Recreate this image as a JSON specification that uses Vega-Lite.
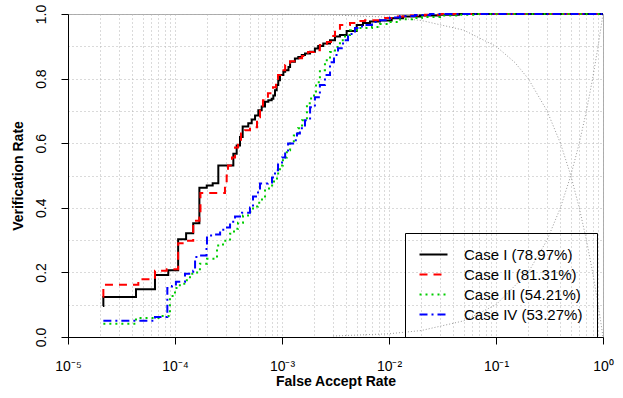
{
  "$schema": "https://vega.github.io/schema/vega-lite/v6.json",
  "width": 535,
  "height": 323,
  "autosize": "none",
  "padding": {"left": 68, "top": 14, "right": 20, "bottom": 61},
  "config": {
    "font": "Liberation Sans",
    "view": {"stroke": "#aaaaaa", "strokeWidth": 1},
    "legend": {
      "orient": "none", "legendX": 337, "legendY": 219,
      "strokeColor": "black", "padding": 14,
      "symbolType": "M-2.8,0H2.8", "symbolSize": 100, "symbolStrokeWidth": 2, "symbolOffset": 7,
      "labelFontSize": 15, "labelFont": "Liberation Sans", "labelColor": "black",
      "rowPadding": 4, "labelOffset": 23, "labelLimit": 300
    }
  },
  "datasets": {
    "ref": [
      {"curve": "a", "far": 0.001, "vr": 0.999}, {"curve": "a", "far": 0.003, "vr": 0.997},
      {"curve": "a", "far": 0.01, "vr": 0.99}, {"curve": "a", "far": 0.02, "vr": 0.98},
      {"curve": "a", "far": 0.05, "vr": 0.95}, {"curve": "a", "far": 0.1, "vr": 0.9},
      {"curve": "a", "far": 0.15, "vr": 0.85}, {"curve": "a", "far": 0.2, "vr": 0.8},
      {"curve": "a", "far": 0.3, "vr": 0.7}, {"curve": "a", "far": 0.4, "vr": 0.6},
      {"curve": "a", "far": 0.5, "vr": 0.5}, {"curve": "a", "far": 0.6, "vr": 0.4},
      {"curve": "a", "far": 0.7, "vr": 0.3}, {"curve": "a", "far": 0.8, "vr": 0.2},
      {"curve": "a", "far": 0.9, "vr": 0.1}, {"curve": "a", "far": 0.95, "vr": 0.05},
      {"curve": "a", "far": 0.99, "vr": 0.01}, {"curve": "a", "far": 1, "vr": 0},
      {"curve": "b", "far": 0.003, "vr": 0.003}, {"curve": "b", "far": 0.01, "vr": 0.01},
      {"curve": "b", "far": 0.02, "vr": 0.02}, {"curve": "b", "far": 0.05, "vr": 0.05},
      {"curve": "b", "far": 0.1, "vr": 0.1}, {"curve": "b", "far": 0.2, "vr": 0.2},
      {"curve": "b", "far": 0.3, "vr": 0.3}, {"curve": "b", "far": 0.4, "vr": 0.4},
      {"curve": "b", "far": 0.5, "vr": 0.5}, {"curve": "b", "far": 0.6, "vr": 0.6},
      {"curve": "b", "far": 0.7, "vr": 0.7}, {"curve": "b", "far": 0.8, "vr": 0.8},
      {"curve": "b", "far": 0.9, "vr": 0.9}, {"curve": "b", "far": 1, "vr": 1}
    ],
    "roc": [
      {"s": "Case I (78.97%)", "far": 2.12e-5, "vr": 0.096},
      {"s": "Case I (78.97%)", "far": 2.14e-5, "vr": 0.124},
      {"s": "Case I (78.97%)", "far": 4.32e-5, "vr": 0.148},
      {"s": "Case I (78.97%)", "far": 6.50e-5, "vr": 0.192},
      {"s": "Case I (78.97%)", "far": 8.65e-5, "vr": 0.207},
      {"s": "Case I (78.97%)", "far": 1.07e-4, "vr": 0.303},
      {"s": "Case I (78.97%)", "far": 1.27e-4, "vr": 0.321},
      {"s": "Case I (78.97%)", "far": 1.48e-4, "vr": 0.352},
      {"s": "Case I (78.97%)", "far": 1.69e-4, "vr": 0.462},
      {"s": "Case I (78.97%)", "far": 1.98e-4, "vr": 0.469},
      {"s": "Case I (78.97%)", "far": 2.25e-4, "vr": 0.476},
      {"s": "Case I (78.97%)", "far": 2.54e-4, "vr": 0.531},
      {"s": "Case I (78.97%)", "far": 3.51e-4, "vr": 0.567},
      {"s": "Case I (78.97%)", "far": 3.77e-4, "vr": 0.593},
      {"s": "Case I (78.97%)", "far": 4.05e-4, "vr": 0.619},
      {"s": "Case I (78.97%)", "far": 4.29e-4, "vr": 0.652},
      {"s": "Case I (78.97%)", "far": 4.84e-4, "vr": 0.662},
      {"s": "Case I (78.97%)", "far": 5.21e-4, "vr": 0.673},
      {"s": "Case I (78.97%)", "far": 5.60e-4, "vr": 0.686},
      {"s": "Case I (78.97%)", "far": 6.01e-4, "vr": 0.702},
      {"s": "Case I (78.97%)", "far": 6.46e-4, "vr": 0.714},
      {"s": "Case I (78.97%)", "far": 6.94e-4, "vr": 0.728},
      {"s": "Case I (78.97%)", "far": 7.45e-4, "vr": 0.733},
      {"s": "Case I (78.97%)", "far": 8.01e-4, "vr": 0.738},
      {"s": "Case I (78.97%)", "far": 8.30e-4, "vr": 0.748},
      {"s": "Case I (78.97%)", "far": 8.60e-4, "vr": 0.764},
      {"s": "Case I (78.97%)", "far": 8.92e-4, "vr": 0.780},
      {"s": "Case I (78.97%)", "far": 9.23e-4, "vr": 0.795},
      {"s": "Case I (78.97%)", "far": 9.57e-4, "vr": 0.811},
      {"s": "Case I (78.97%)", "far": 1.03e-3, "vr": 0.821},
      {"s": "Case I (78.97%)", "far": 1.07e-3, "vr": 0.826},
      {"s": "Case I (78.97%)", "far": 1.15e-3, "vr": 0.836},
      {"s": "Case I (78.97%)", "far": 1.19e-3, "vr": 0.852},
      {"s": "Case I (78.97%)", "far": 1.32e-3, "vr": 0.862},
      {"s": "Case I (78.97%)", "far": 1.42e-3, "vr": 0.867},
      {"s": "Case I (78.97%)", "far": 1.53e-3, "vr": 0.873},
      {"s": "Case I (78.97%)", "far": 1.64e-3, "vr": 0.878},
      {"s": "Case I (78.97%)", "far": 1.83e-3, "vr": 0.883},
      {"s": "Case I (78.97%)", "far": 2.03e-3, "vr": 0.893},
      {"s": "Case I (78.97%)", "far": 2.18e-3, "vr": 0.901},
      {"s": "Case I (78.97%)", "far": 2.43e-3, "vr": 0.909},
      {"s": "Case I (78.97%)", "far": 2.81e-3, "vr": 0.919},
      {"s": "Case I (78.97%)", "far": 3.13e-3, "vr": 0.930},
      {"s": "Case I (78.97%)", "far": 3.48e-3, "vr": 0.935},
      {"s": "Case I (78.97%)", "far": 4.02e-3, "vr": 0.947},
      {"s": "Case I (78.97%)", "far": 4.99e-3, "vr": 0.966},
      {"s": "Case I (78.97%)", "far": 5.71e-3, "vr": 0.972},
      {"s": "Case I (78.97%)", "far": 6.64e-3, "vr": 0.977},
      {"s": "Case I (78.97%)", "far": 8.24e-3, "vr": 0.980},
      {"s": "Case I (78.97%)", "far": 1.06e-2, "vr": 0.987},
      {"s": "Case I (78.97%)", "far": 1.35e-2, "vr": 0.992},
      {"s": "Case I (78.97%)", "far": 1.95e-2, "vr": 0.995},
      {"s": "Case I (78.97%)", "far": 3.00e-2, "vr": 0.998},
      {"s": "Case I (78.97%)", "far": 4.5e-2, "vr": 1.0},
      {"s": "Case I (78.97%)", "far": 1, "vr": 1.0},

      {"s": "Case II (81.31%)", "far": 2.12e-5, "vr": 0.125},
      {"s": "Case II (81.31%)", "far": 2.14e-5, "vr": 0.162},
      {"s": "Case II (81.31%)", "far": 4.54e-5, "vr": 0.179},
      {"s": "Case II (81.31%)", "far": 6.50e-5, "vr": 0.205},
      {"s": "Case II (81.31%)", "far": 8.36e-5, "vr": 0.210},
      {"s": "Case II (81.31%)", "far": 1.07e-4, "vr": 0.290},
      {"s": "Case II (81.31%)", "far": 1.29e-4, "vr": 0.298},
      {"s": "Case II (81.31%)", "far": 1.48e-4, "vr": 0.360},
      {"s": "Case II (81.31%)", "far": 1.69e-4, "vr": 0.370},
      {"s": "Case II (81.31%)", "far": 1.73e-4, "vr": 0.446},
      {"s": "Case II (81.31%)", "far": 2.93e-4, "vr": 0.466},
      {"s": "Case II (81.31%)", "far": 3.04e-4, "vr": 0.500},
      {"s": "Case II (81.31%)", "far": 3.13e-4, "vr": 0.531},
      {"s": "Case II (81.31%)", "far": 3.41e-4, "vr": 0.556},
      {"s": "Case II (81.31%)", "far": 3.64e-4, "vr": 0.587},
      {"s": "Case II (81.31%)", "far": 3.88e-4, "vr": 0.602},
      {"s": "Case II (81.31%)", "far": 4.14e-4, "vr": 0.630},
      {"s": "Case II (81.31%)", "far": 4.51e-4, "vr": 0.640},
      {"s": "Case II (81.31%)", "far": 5.02e-4, "vr": 0.649},
      {"s": "Case II (81.31%)", "far": 5.84e-4, "vr": 0.680},
      {"s": "Case II (81.31%)", "far": 6.23e-4, "vr": 0.711},
      {"s": "Case II (81.31%)", "far": 6.64e-4, "vr": 0.733},
      {"s": "Case II (81.31%)", "far": 7.39e-4, "vr": 0.755},
      {"s": "Case II (81.31%)", "far": 8.24e-4, "vr": 0.773},
      {"s": "Case II (81.31%)", "far": 8.79e-4, "vr": 0.795},
      {"s": "Case II (81.31%)", "far": 9.18e-4, "vr": 0.811},
      {"s": "Case II (81.31%)", "far": 9.79e-4, "vr": 0.826},
      {"s": "Case II (81.31%)", "far": 1.07e-3, "vr": 0.842},
      {"s": "Case II (81.31%)", "far": 1.19e-3, "vr": 0.854},
      {"s": "Case II (81.31%)", "far": 1.35e-3, "vr": 0.863},
      {"s": "Case II (81.31%)", "far": 1.54e-3, "vr": 0.870},
      {"s": "Case II (81.31%)", "far": 1.75e-3, "vr": 0.882},
      {"s": "Case II (81.31%)", "far": 1.99e-3, "vr": 0.888},
      {"s": "Case II (81.31%)", "far": 2.26e-3, "vr": 0.904},
      {"s": "Case II (81.31%)", "far": 2.63e-3, "vr": 0.913},
      {"s": "Case II (81.31%)", "far": 2.87e-3, "vr": 0.932},
      {"s": "Case II (81.31%)", "far": 3.13e-3, "vr": 0.950},
      {"s": "Case II (81.31%)", "far": 3.48e-3, "vr": 0.966},
      {"s": "Case II (81.31%)", "far": 4.32e-3, "vr": 0.972},
      {"s": "Case II (81.31%)", "far": 5.13e-3, "vr": 0.978},
      {"s": "Case II (81.31%)", "far": 5.97e-3, "vr": 0.981},
      {"s": "Case II (81.31%)", "far": 9.18e-3, "vr": 0.988},
      {"s": "Case II (81.31%)", "far": 1.14e-2, "vr": 0.992},
      {"s": "Case II (81.31%)", "far": 1.47e-2, "vr": 0.995},
      {"s": "Case II (81.31%)", "far": 2.17e-2, "vr": 0.998},
      {"s": "Case II (81.31%)", "far": 3.0e-2, "vr": 1.0},
      {"s": "Case II (81.31%)", "far": 1, "vr": 1.0},

      {"s": "Case III (54.21%)", "far": 2.14e-5, "vr": 0.041},
      {"s": "Case III (54.21%)", "far": 4.32e-5, "vr": 0.059},
      {"s": "Case III (54.21%)", "far": 7.24e-5, "vr": 0.065},
      {"s": "Case III (54.21%)", "far": 8.97e-5, "vr": 0.127},
      {"s": "Case III (54.21%)", "far": 1.0e-4, "vr": 0.152},
      {"s": "Case III (54.21%)", "far": 1.11e-4, "vr": 0.165},
      {"s": "Case III (54.21%)", "far": 1.29e-4, "vr": 0.180},
      {"s": "Case III (54.21%)", "far": 1.38e-4, "vr": 0.196},
      {"s": "Case III (54.21%)", "far": 1.61e-4, "vr": 0.205},
      {"s": "Case III (54.21%)", "far": 1.71e-4, "vr": 0.227},
      {"s": "Case III (54.21%)", "far": 1.99e-4, "vr": 0.242},
      {"s": "Case III (54.21%)", "far": 2.47e-4, "vr": 0.283},
      {"s": "Case III (54.21%)", "far": 2.81e-4, "vr": 0.298},
      {"s": "Case III (54.21%)", "far": 3.27e-4, "vr": 0.320},
      {"s": "Case III (54.21%)", "far": 3.56e-4, "vr": 0.335},
      {"s": "Case III (54.21%)", "far": 3.88e-4, "vr": 0.354},
      {"s": "Case III (54.21%)", "far": 4.32e-4, "vr": 0.376},
      {"s": "Case III (54.21%)", "far": 4.81e-4, "vr": 0.388},
      {"s": "Case III (54.21%)", "far": 5.36e-4, "vr": 0.404},
      {"s": "Case III (54.21%)", "far": 5.97e-4, "vr": 0.416},
      {"s": "Case III (54.21%)", "far": 6.50e-4, "vr": 0.432},
      {"s": "Case III (54.21%)", "far": 6.94e-4, "vr": 0.460},
      {"s": "Case III (54.21%)", "far": 7.73e-4, "vr": 0.469},
      {"s": "Case III (54.21%)", "far": 8.42e-4, "vr": 0.491},
      {"s": "Case III (54.21%)", "far": 8.98e-4, "vr": 0.506},
      {"s": "Case III (54.21%)", "far": 9.57e-4, "vr": 0.531},
      {"s": "Case III (54.21%)", "far": 1.02e-3, "vr": 0.556},
      {"s": "Case III (54.21%)", "far": 1.11e-3, "vr": 0.578},
      {"s": "Case III (54.21%)", "far": 1.19e-3, "vr": 0.599},
      {"s": "Case III (54.21%)", "far": 1.29e-3, "vr": 0.624},
      {"s": "Case III (54.21%)", "far": 1.41e-3, "vr": 0.646},
      {"s": "Case III (54.21%)", "far": 1.54e-3, "vr": 0.671},
      {"s": "Case III (54.21%)", "far": 1.71e-3, "vr": 0.724},
      {"s": "Case III (54.21%)", "far": 1.87e-3, "vr": 0.748},
      {"s": "Case III (54.21%)", "far": 2.08e-3, "vr": 0.789},
      {"s": "Case III (54.21%)", "far": 2.26e-3, "vr": 0.826},
      {"s": "Case III (54.21%)", "far": 2.52e-3, "vr": 0.857},
      {"s": "Case III (54.21%)", "far": 2.81e-3, "vr": 0.882},
      {"s": "Case III (54.21%)", "far": 3.13e-3, "vr": 0.898},
      {"s": "Case III (54.21%)", "far": 3.48e-3, "vr": 0.919},
      {"s": "Case III (54.21%)", "far": 3.88e-3, "vr": 0.935},
      {"s": "Case III (54.21%)", "far": 4.32e-3, "vr": 0.950},
      {"s": "Case III (54.21%)", "far": 5.13e-3, "vr": 0.957},
      {"s": "Case III (54.21%)", "far": 6.94e-3, "vr": 0.960},
      {"s": "Case III (54.21%)", "far": 8.24e-3, "vr": 0.969},
      {"s": "Case III (54.21%)", "far": 1.02e-2, "vr": 0.975},
      {"s": "Case III (54.21%)", "far": 1.27e-2, "vr": 0.984},
      {"s": "Case III (54.21%)", "far": 1.64e-2, "vr": 0.988},
      {"s": "Case III (54.21%)", "far": 2.03e-2, "vr": 0.991},
      {"s": "Case III (54.21%)", "far": 3.0e-2, "vr": 0.995},
      {"s": "Case III (54.21%)", "far": 4.61e-2, "vr": 0.998},
      {"s": "Case III (54.21%)", "far": 6.5e-2, "vr": 1.0},
      {"s": "Case III (54.21%)", "far": 1, "vr": 1.0},

      {"s": "Case IV (53.27%)", "far": 2.14e-5, "vr": 0.050},
      {"s": "Case IV (53.27%)", "far": 6.50e-5, "vr": 0.062},
      {"s": "Case IV (53.27%)", "far": 8.48e-5, "vr": 0.152},
      {"s": "Case IV (53.27%)", "far": 9.37e-5, "vr": 0.158},
      {"s": "Case IV (53.27%)", "far": 1.02e-4, "vr": 0.171},
      {"s": "Case IV (53.27%)", "far": 1.24e-4, "vr": 0.196},
      {"s": "Case IV (53.27%)", "far": 1.48e-4, "vr": 0.205},
      {"s": "Case IV (53.27%)", "far": 1.54e-4, "vr": 0.248},
      {"s": "Case IV (53.27%)", "far": 1.71e-4, "vr": 0.252},
      {"s": "Case IV (53.27%)", "far": 1.97e-4, "vr": 0.276},
      {"s": "Case IV (53.27%)", "far": 1.99e-4, "vr": 0.314},
      {"s": "Case IV (53.27%)", "far": 2.26e-4, "vr": 0.317},
      {"s": "Case IV (53.27%)", "far": 2.64e-4, "vr": 0.332},
      {"s": "Case IV (53.27%)", "far": 2.93e-4, "vr": 0.339},
      {"s": "Case IV (53.27%)", "far": 3.27e-4, "vr": 0.357},
      {"s": "Case IV (53.27%)", "far": 3.64e-4, "vr": 0.373},
      {"s": "Case IV (53.27%)", "far": 4.23e-4, "vr": 0.385},
      {"s": "Case IV (53.27%)", "far": 5.02e-4, "vr": 0.401},
      {"s": "Case IV (53.27%)", "far": 5.36e-4, "vr": 0.435},
      {"s": "Case IV (53.27%)", "far": 5.97e-4, "vr": 0.453},
      {"s": "Case IV (53.27%)", "far": 6.23e-4, "vr": 0.475},
      {"s": "Case IV (53.27%)", "far": 7.39e-4, "vr": 0.478},
      {"s": "Case IV (53.27%)", "far": 8.07e-4, "vr": 0.494},
      {"s": "Case IV (53.27%)", "far": 8.60e-4, "vr": 0.516},
      {"s": "Case IV (53.27%)", "far": 9.18e-4, "vr": 0.540},
      {"s": "Case IV (53.27%)", "far": 1.0e-3, "vr": 0.556},
      {"s": "Case IV (53.27%)", "far": 1.07e-3, "vr": 0.568},
      {"s": "Case IV (53.27%)", "far": 1.14e-3, "vr": 0.599},
      {"s": "Case IV (53.27%)", "far": 1.27e-3, "vr": 0.609},
      {"s": "Case IV (53.27%)", "far": 1.38e-3, "vr": 0.630},
      {"s": "Case IV (53.27%)", "far": 1.47e-3, "vr": 0.646},
      {"s": "Case IV (53.27%)", "far": 1.64e-3, "vr": 0.671},
      {"s": "Case IV (53.27%)", "far": 1.83e-3, "vr": 0.711},
      {"s": "Case IV (53.27%)", "far": 2.03e-3, "vr": 0.742},
      {"s": "Case IV (53.27%)", "far": 2.26e-3, "vr": 0.780},
      {"s": "Case IV (53.27%)", "far": 2.52e-3, "vr": 0.811},
      {"s": "Case IV (53.27%)", "far": 2.81e-3, "vr": 0.851},
      {"s": "Case IV (53.27%)", "far": 3.06e-3, "vr": 0.873},
      {"s": "Case IV (53.27%)", "far": 3.34e-3, "vr": 0.894},
      {"s": "Case IV (53.27%)", "far": 3.72e-3, "vr": 0.919},
      {"s": "Case IV (53.27%)", "far": 4.14e-3, "vr": 0.938},
      {"s": "Case IV (53.27%)", "far": 4.81e-3, "vr": 0.957},
      {"s": "Case IV (53.27%)", "far": 5.60e-3, "vr": 0.966},
      {"s": "Case IV (53.27%)", "far": 6.94e-3, "vr": 0.975},
      {"s": "Case IV (53.27%)", "far": 8.24e-3, "vr": 0.981},
      {"s": "Case IV (53.27%)", "far": 1.02e-2, "vr": 0.989},
      {"s": "Case IV (53.27%)", "far": 1.27e-2, "vr": 0.994},
      {"s": "Case IV (53.27%)", "far": 1.75e-2, "vr": 0.997},
      {"s": "Case IV (53.27%)", "far": 2.42e-2, "vr": 1.0},
      {"s": "Case IV (53.27%)", "far": 1, "vr": 1.0}
    ]
  },
  "encoding": {
    "x": {
      "field": "far", "type": "quantitative",
      "scale": {"type": "log", "domain": [0.00001, 1], "nice": false},
      "axis": {
        "title": "False Accept Rate", "titleFontSize": 14, "titleFontWeight": "bold", "titleColor": "black", "titlePadding": 1,
        "values": [0.00001,0.00002,0.00003,0.00004,0.00005,0.00006,0.00007,0.00008,0.00009,
                   0.0001,0.0002,0.0003,0.0004,0.0005,0.0006,0.0007,0.0008,0.0009,
                   0.001,0.002,0.003,0.004,0.005,0.006,0.007,0.008,0.009,
                   0.01,0.02,0.03,0.04,0.05,0.06,0.07,0.08,0.09,
                   0.1,0.2,0.3,0.4,0.5,0.6,0.7,0.8,0.9,1],
        "labelExpr": "abs(log(datum.value)/LN10 - round(log(datum.value)/LN10)) < 1e-6 ? ['10⁻⁵','10⁻⁴','10⁻³','10⁻²','10⁻¹','10⁰'][round(log(datum.value)/LN10)+5] : ''",
        "labelFontSize": 14, "labelColor": "black", "labelPadding": 15, "labelOverlap": false, "labelFlush": false,
        "tickSize": 7, "tickColor": "black",
        "tickOpacity": {"condition": {"test": "abs(log(datum.value)/LN10 - round(log(datum.value)/LN10)) < 1e-6", "value": 1}, "value": 0},
        "domainColor": "black",
        "grid": true, "gridColor": "#b4b4b4", "gridDash": [1, 3], "gridWidth": 1
      }
    },
    "y": {
      "field": "vr", "type": "quantitative",
      "scale": {"domain": [0, 1], "nice": false},
      "axis": {
        "title": "Verification Rate", "titleFontSize": 14, "titleFontWeight": "bold", "titleColor": "black", "titlePadding": 9,
        "values": [0,0.1,0.2,0.3,0.4,0.5,0.6,0.7,0.8,0.9,1],
        "labelExpr": "round(datum.value*10) % 2 == 0 ? format(datum.value, '.1f') : ''",
        "labelAngle": -90, "labelAlign": "center", "labelBaseline": "bottom",
        "labelFontSize": 14, "labelColor": "black", "labelPadding": 13, "labelOverlap": false, "labelFlush": false,
        "tickSize": 7, "tickColor": "black",
        "tickOpacity": {"condition": {"test": "round(datum.value*10) % 2 == 0", "value": 1}, "value": 0},
        "domainColor": "black",
        "grid": true, "gridColor": "#b4b4b4", "gridDash": [1, 3], "gridWidth": 1
      }
    }
  },
  "layer": [
    {
      "data": {"name": "ref"},
      "mark": {"type": "line", "color": "#9a9a9a", "strokeWidth": 1, "strokeDash": [1, 2]},
      "encoding": {"detail": {"field": "curve", "type": "nominal"}}
    },
    {
      "data": {"name": "roc"},
      "mark": {"type": "line", "interpolate": "step-after", "strokeWidth": 2},
      "encoding": {
        "color": {
          "field": "s", "type": "nominal",
          "scale": {"domain": ["Case I (78.97%)", "Case II (81.31%)", "Case III (54.21%)", "Case IV (53.27%)"],
                    "range": ["#000000", "#ff0000", "#00cd00", "#0000ff"]},
          "legend": {"title": null}
        },
        "strokeDash": {
          "field": "s", "type": "nominal",
          "scale": {"domain": ["Case I (78.97%)", "Case II (81.31%)", "Case III (54.21%)", "Case IV (53.27%)"],
                    "range": [[1, 0], [8, 6], [2, 4], [8, 4, 2, 4]]},
          "legend": {"title": null}
        }
      }
    }
  ]
}
